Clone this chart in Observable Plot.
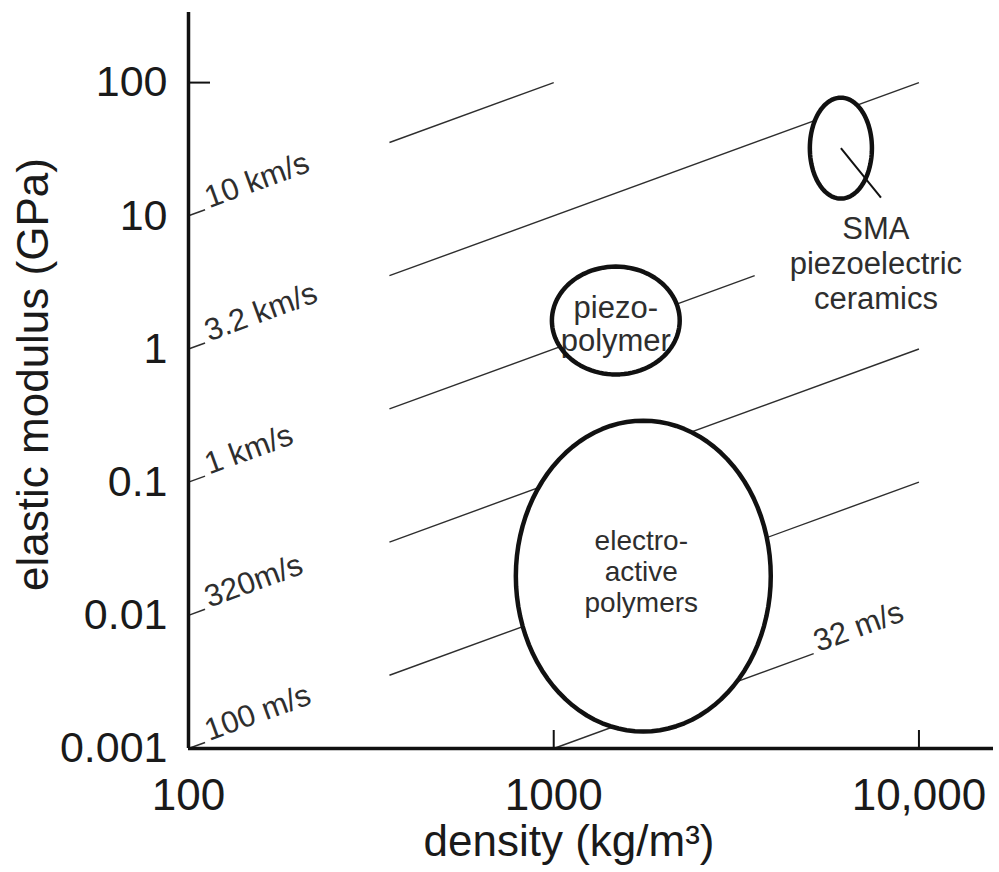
<!DOCTYPE html>
<html>
<head>
<meta charset="utf-8">
<script src="https://cdn.jsdelivr.net/npm/d3@7"></script>
<script src="https://cdn.jsdelivr.net/npm/@observablehq/plot@0.6"></script>
<style>
  html, body { margin: 0; padding: 0; background: #fff; }
</style>
</head>
<body>
<div id="chart"></div>
<script>
// ---- Data ----
// iso-velocity guide lines (E = density * v^2)
const speeds = [10000, 3162, 1000, 316.2, 100, 31.62];           // m/s
const speedLabels = ["10 km/s", "3.2 km/s", "1 km/s", "320m/s", "100 m/s", "32 m/s"];
const lineStartDensity = [355, 355, 355, 355, 355, 1000];          // kg/m3
const lineEndDensity = [1000, 10000, 3550, 10000, 10000, 5150];    // kg/m3
const labelDensity = [114, 114, 114, 114, 114, 5300];              // kg/m3
const dashStartDensity = [100, 100, 100, 100, 100, null];
const dashEndDensity = [111, 111, 111, 111, 111, null];

// material property regions (ellipses in log-log space)
const regionNames = ["electro-\nactive\npolymers", "piezo-\npolymer", "SMA\npiezoelectric\nceramics"];
const regionDensity = [1759, 1479, 6113];        // centre, kg/m3
const regionModulus = [0.0197, 1.634, 32.2];     // centre, GPa
const regionHalfDecadesX = [0.349, 0.175, 0.085];
const regionHalfDecadesY = [1.167, 0.405, 0.379];

// SMA pointer line
const pointerDensity = [6113, 7870];
const pointerModulus = [32.2, 13.7];

// axes
const xTicks = [100, 1000, 10000];
const xTickLabels = ["100", "1000", "10,000"];
const yTicks = [0.001, 0.01, 0.1, 1, 10, 100];
const yTickLabels = ["0.001", "0.01", "0.1", "1", "10", "100"];
const xTitle = "density (kg/m³)";
const yTitle = "elastic modulus (GPa)";

// ---- Derived tables ----
const modulus = (rho, v) => rho * v * v / 1e9;   // GPa
const idx = d3.range(speeds.length);
const dashIdx = idx.filter(i => dashStartDensity[i] != null);

const ellipsePts = [];
regionNames.forEach((name, k) => {
  const n = 96;
  for (let i = 0; i < n; i++) {
    const t = (2 * Math.PI * i) / n;
    ellipsePts.push({
      name,
      x: regionDensity[k] * Math.pow(10, regionHalfDecadesX[k] * Math.cos(t)),
      y: regionModulus[k] * Math.pow(10, regionHalfDecadesY[k] * Math.sin(t))
    });
  }
});

const angle = -Math.atan((736 / Math.log10(336 / 0.001)) / (805 / Math.log10(16000 / 100))) * 180 / Math.PI;

const FONT = "'Liberation Sans', Arial, Helvetica, sans-serif";
const ink = "#1a1a1a";
const soft = "#2e2e2e";

const chart = Plot.plot({
  width: 999,
  height: 872,
  marginLeft: 188,
  marginRight: 6,
  marginTop: 12,
  marginBottom: 124,
  x: { type: "log", domain: [100, 16000], label: null },
  y: { type: "log", domain: [0.001, 336], label: null },
  style: { fontFamily: FONT, background: "#fff", color: ink },
  marks: [
    // short dashes leading the left-hand labels
    Plot.link(dashIdx, {
      x1: i => dashStartDensity[i], y1: i => modulus(dashStartDensity[i], speeds[i]),
      x2: i => dashEndDensity[i], y2: i => modulus(dashEndDensity[i], speeds[i]),
      stroke: soft, strokeWidth: 1.5
    }),
    // iso-velocity lines
    Plot.link(idx, {
      x1: i => lineStartDensity[i], y1: i => modulus(lineStartDensity[i], speeds[i]),
      x2: i => lineEndDensity[i], y2: i => modulus(lineEndDensity[i], speeds[i]),
      stroke: soft, strokeWidth: 1.4
    }),
    // ellipse fills (hide guide lines)
    Plot.line(ellipsePts, { x: "x", y: "y", z: "name", curve: "linear-closed", fill: "white", stroke: "none" }),
    // region labels
    Plot.text([0], {
      x: () => regionDensity[0], y: () => regionModulus[0], text: () => regionNames[0],
      dx: -2, dy: -5, fontSize: 28, lineHeight: 1.1, fill: soft
    }),
    Plot.text([1], {
      x: () => regionDensity[1], y: () => regionModulus[1], text: () => regionNames[1],
      dx: 0, dy: 3, fontSize: 31, lineHeight: 1.07, fill: soft
    }),
    Plot.text([2], {
      x: () => regionDensity[2], y: () => regionModulus[2], text: () => regionNames[2],
      dx: 35, dy: 115, fontSize: 31, lineHeight: 1.13, fill: soft
    }),
    // ellipse outlines
    Plot.line(ellipsePts, { x: "x", y: "y", z: "name", curve: "linear-closed", fill: "none", stroke: "#111", strokeWidth: 4.5 }),
    // SMA pointer
    Plot.link([0], {
      x1: () => pointerDensity[0], y1: () => pointerModulus[0],
      x2: () => pointerDensity[1], y2: () => pointerModulus[1],
      stroke: "#111", strokeWidth: 2
    }),
    // speed labels
    Plot.text(idx, {
      x: i => labelDensity[i], y: i => modulus(labelDensity[i], speeds[i]),
      text: i => speedLabels[i], rotate: angle, textAnchor: "start", lineAnchor: "bottom",
      fontSize: 31, fill: soft
    }),
    // axis lines
    Plot.ruleX([100], { stroke: "#111", strokeWidth: 3.5 }),
    Plot.ruleY([0.001], { stroke: "#111", strokeWidth: 3.5 }),
    // inward ticks
    Plot.ruleX(xTicks.slice(1), { stroke: "#111", strokeWidth: 2, insetTop: 718 }),
    Plot.ruleY([100], { stroke: "#111", strokeWidth: 2, insetRight: 783 }),
    // tick labels
    Plot.axisX({
      ticks: xTicks, tickFormat: d => xTickLabels[xTicks.indexOf(d)],
      tickSize: 0, tickPadding: 30, fontSize: 44, label: null, fill: ink
    }),
    Plot.axisY({
      ticks: yTicks, tickFormat: d => yTickLabels[yTicks.indexOf(d)],
      tickSize: 0, tickPadding: 21, fontSize: 43, label: null, fill: ink
    }),
    // axis titles
    Plot.text([xTitle], {
      frameAnchor: "bottom", text: d => d, dx: -22, dy: 107,
      lineAnchor: "bottom", textAnchor: "middle", fontSize: 44, fill: ink
    }),
    Plot.text([yTitle], {
      frameAnchor: "left", text: d => d, rotate: -90, dx: -141, dy: -6,
      lineAnchor: "bottom", textAnchor: "middle", fontSize: 44, fill: ink
    })
  ]
});

document.getElementById("chart").appendChild(chart);
</script>
</body>
</html>
